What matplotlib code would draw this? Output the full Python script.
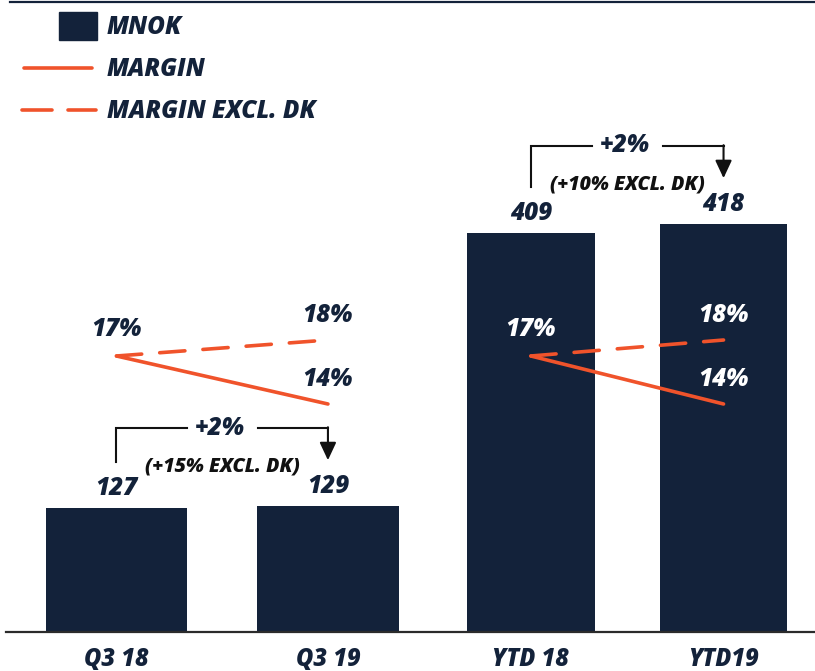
import matplotlib
matplotlib.use("Agg")
import matplotlib.pyplot as plt
from matplotlib.patches import Rectangle
from matplotlib.lines import Line2D

# ---- data ----
categories = ["Q3 18", "Q3 19", "YTD 18", "YTD19"]
mnok = [127, 129, 409, 418]
margin = [17, 14, 17, 14]
margin_excl_dk = [17, 18, 17, 18]
growth_labels = ["+2%", "+2%"]
growth_excl_labels = ["(+15% EXCL. DK)", "(+10% EXCL. DK)"]

# ---- layout / style ----
xpos = [0.0, 1.045, 2.048, 3.0]
bar_widths = [0.697, 0.70, 0.633, 0.628]
NAVY = "#13223A"
ORANGE = "#F0532B"
W, H = 815, 671
FONT = ["Open Sans", "DejaVu Sans"]
plt.rcParams["font.family"] = FONT
WEIGHT = 800

fig = plt.figure(figsize=(W / 100, H / 100), dpi=100)
ax = fig.add_axes([6 / W, 39 / H, 809 / W, 630 / H])
ax.set_xlim(-0.546, 3.452)
ax.set_ylim(0, 645.5)

ax.bar(xpos, mnok, width=bar_widths, color=NAVY, zorder=2)

for s in ["top", "left", "right"]:
    ax.spines[s].set_visible(False)
ax.spines["bottom"].set_color("#2b2b2b")
ax.spines["bottom"].set_linewidth(1.6)
ax.set_yticks([])
ax.set_xticks(xpos)
ax.set_xticklabels(categories, fontsize=17, fontweight=WEIGHT, style="italic", color=NAVY)
ax.tick_params(axis="x", length=0, pad=11)

txt_kw = dict(fontsize=17.5, fontweight=WEIGHT, style="italic", ha="center", va="center")

# value labels above bars
for x, v in zip(xpos, mnok):
    ax.annotate(f"{v}", (x, v), xytext=(0, 14), textcoords="offset points",
                color=NAVY, **txt_kw)

# margin lines on a secondary scale
ax2 = ax.twinx()
ax2.set_ylim(-0.25, 39.125)
ax2.axis("off")
for g in range(2):
    i, j = 2 * g, 2 * g + 1
    ax2.plot([xpos[i], xpos[j]], [margin_excl_dk[i], margin_excl_dk[j]], color=ORANGE,
             lw=2.6, dashes=(7, 5), dash_capstyle="round", solid_capstyle="round", zorder=3)
    ax2.plot([xpos[i], xpos[j]], [margin[i], margin[j]], color=ORANGE,
             lw=2.6, solid_capstyle="round", zorder=3)
    col = NAVY if g == 0 else "white"
    ax2.annotate(f"{margin[i]}%", (xpos[i], margin[i]), xytext=(0, 19),
                 textcoords="offset points", color=col, **txt_kw)
    ax2.annotate(f"{margin_excl_dk[j]}%", (xpos[j], margin_excl_dk[j]), xytext=(0, 18),
                 textcoords="offset points", color=col, **txt_kw)
    ax2.annotate(f"{margin[j]}%", (xpos[j], margin[j]), xytext=(0, 18),
                 textcoords="offset points", color=col, **txt_kw)

# growth brackets between bar pairs
for g in range(2):
    i, j = 2 * g, 2 * g + 1
    x0, x1 = xpos[i], xpos[j]
    y_start = mnok[i] + 47
    y_top = max(mnok[i], mnok[j]) + 80
    y_tip = mnok[j] + 47
    mid = (x0 + x1) / 2
    gap = 0.175
    ax.plot([x0, x0, mid - gap], [y_start, y_top, y_top], color="#111111", lw=1.5,
            solid_joinstyle="miter", zorder=4)
    ax.plot([mid + gap, x1], [y_top, y_top], color="#111111", lw=1.5, zorder=4)
    ax.annotate("", xy=(x1, y_tip), xytext=(x1, y_top + 0.8),
                arrowprops=dict(arrowstyle="-|>,head_length=0.9,head_width=0.42",
                                mutation_scale=12, color="#111111", lw=1.5,
                                shrinkA=0, shrinkB=0), zorder=4)
    ax.text(mid - 0.01, y_top, growth_labels[g], color=NAVY, **txt_kw)
    ax.text(mid, y_top - 39, growth_excl_labels[g], color="#111111",
            fontsize=14, fontweight=WEIGHT, style="italic", ha="center", va="center")

# top rule
fig.add_artist(Line2D([10 / W, 1.0], [1 - 2 / H, 1 - 2 / H], color=NAVY, lw=1.6))


def fx(x):
    return x / W


def fy(y):
    return 1 - y / H


# legend
fig.add_artist(Rectangle((fx(59), fy(40)), (97 - 59) / W, 28 / H, color=NAVY))
fig.add_artist(Line2D([fx(24), fx(92)], [fy(68), fy(68)], color=ORANGE, lw=2.6,
                      solid_capstyle="round"))
fig.add_artist(Line2D([fx(22), fx(52)], [fy(110), fy(110)], color=ORANGE, lw=2.6,
                      solid_capstyle="round"))
fig.add_artist(Line2D([fx(68), fx(96)], [fy(110), fy(110)], color=ORANGE, lw=2.6,
                      solid_capstyle="round"))
for label, y in [("MNOK", 28), ("MARGIN", 70), ("MARGIN EXCL. DK", 112)]:
    fig.text(fx(107), fy(y), label, fontsize=17.5, fontweight=WEIGHT, style="italic",
             color=NAVY, ha="left", va="center")

fig.savefig("out.png", dpi=100)
